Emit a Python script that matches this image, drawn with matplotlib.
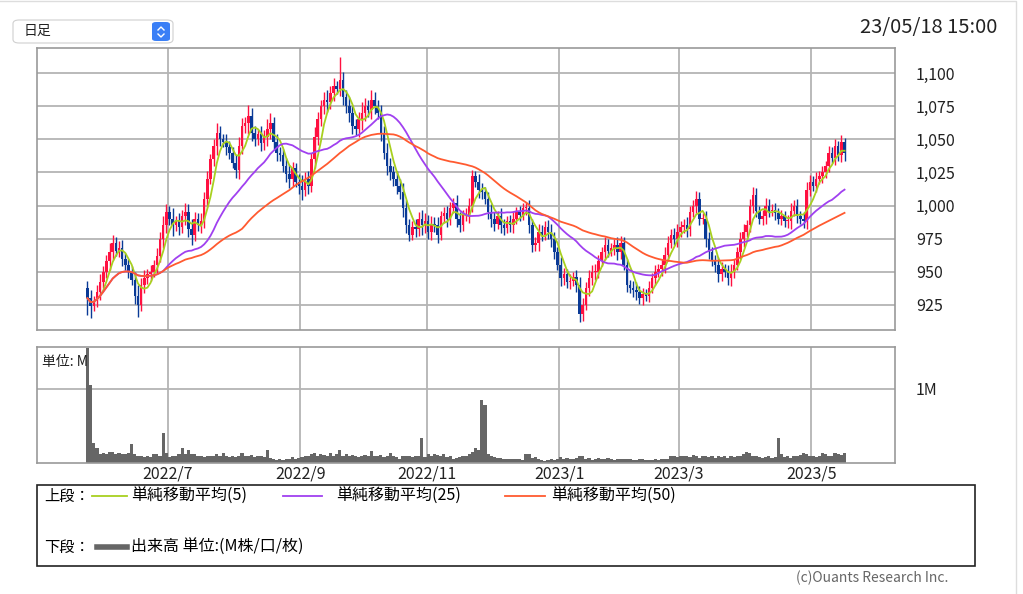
import matplotlib
matplotlib.use("Agg")
import matplotlib.pyplot as plt
from matplotlib.patches import FancyBboxPatch, Rectangle
from matplotlib.lines import Line2D
import numpy as np
import pandas as pd

plt.rcParams['font.family'] = ['Noto Sans CJK JP', 'DejaVu Sans']

W, H = 1023, 594

# TSE trading days 2022/5/26 - 2023/5/18
holidays = ["2022-07-18", "2022-08-11", "2022-09-19", "2022-09-23", "2022-10-10",
            "2022-11-03", "2022-11-23", "2023-01-02", "2023-01-03", "2023-01-09",
            "2023-02-23", "2023-03-21", "2023-05-03", "2023-05-04", "2023-05-05"]
dates = pd.bdate_range("2022-05-26", "2023-05-18", freq="C", holidays=holidays)

first_open = 938
closes = [
    930, 924, 928, 935, 942,   950, 958, 965, 972, 966,
    968, 960, 955, 950, 944,   932, 925, 940, 945, 948,
    950, 955, 962, 975, 985,   995, 990, 985, 988, 984,
    992, 995, 982, 978, 990,   985, 988, 1005, 1020, 1035,
    1045, 1055, 1050, 1048, 1044,   1040, 1032, 1027, 1045, 1060,
    1062, 1068, 1055, 1050, 1054,   1047, 1052, 1058, 1062, 1048,
    1040, 1038, 1030, 1024, 1020,   1028, 1018, 1015, 1012, 1020,
    1015, 1035, 1052, 1065, 1075,   1080, 1078, 1085, 1090, 1088,
    1095, 1082, 1075, 1070, 1060,   1058, 1065, 1070, 1075, 1072,
    1080, 1075, 1070, 1055, 1040,   1030, 1025, 1020, 1015, 1010,
    998, 985, 978, 984, 982,   990, 985, 988, 980, 986,
    985, 978, 992, 994, 990,   998, 1002, 990, 985, 993,
    993, 1000, 1022, 1018, 1012,   1010, 1005, 995, 990, 986,
    992, 985, 983, 988, 985,   990, 995, 993, 998, 998,
    985, 970, 972, 980, 978,   984, 980, 975, 965, 955,
    945, 948, 942, 943, 946,   940, 918, 925, 938, 945,
    950, 950, 958, 965, 970,   966, 968, 970, 965, 972,
    955, 940, 938, 936, 935,   930, 933, 932, 938, 945,
    950, 952, 955, 963, 972,   978, 975, 980, 984, 985,
    982, 995, 1000, 1005, 990,   990, 975, 965, 958, 955,
    948, 952, 950, 945, 950,   955, 965, 975, 980, 985,
    1000, 1008, 996, 990, 992,   1000, 996, 997, 994, 990,
    992, 988, 988, 996, 1000,   992, 990, 988, 1012, 1018,
    1015, 1020, 1022, 1025, 1030,   1040, 1036, 1045, 1038, 1048,
    1040,
]
wicks = [
    5, 6, 4, 5, 6, 4, 5, 7, 6, 4,
    5, 6, 4, 5, 4, 6, 8, 5, 6, 4,
    5, 4, 6, 5, 7, 6, 5, 8, 4, 6,
    5, 7, 6, 8, 5, 4, 6, 5, 6, 4,
    5, 7, 5, 4, 6, 5, 4, 6, 7, 6,
    5, 8, 6, 5, 4, 6, 5, 7, 8, 5,
    6, 4, 5, 6, 7, 5, 4, 6, 8, 5,
    6, 5, 7, 6, 5, 6, 7, 5, 6, 4,
    5, 6, 5, 7, 6, 5, 6, 8, 6, 5,
    7, 6, 5, 6, 5, 7, 6, 5, 6, 5,
    7, 6, 5, 4, 6, 5, 7, 6, 5, 6,
    5, 6, 4, 5, 6, 5, 4, 6, 5, 4,
    5, 6, 5, 4, 6, 5, 4, 5, 6, 5,
    4, 6, 5, 4, 5, 6, 4, 5, 4, 5,
    6, 5, 4, 6, 5, 4, 5, 6, 5, 4,
    6, 5, 4, 5, 4, 5, 6, 5, 4, 6,
    5, 6, 5, 4, 6, 5, 4, 5, 6, 5,
    4, 5, 4, 5, 6, 4, 5, 4, 5, 4,
    5, 4, 5, 6, 5, 4, 5, 6, 4, 5,
    6, 5, 4, 6, 5, 4, 6, 5, 4, 5,
    6, 5, 4, 5, 6, 5, 4, 5, 6, 4,
    5, 6, 5, 4, 5, 6, 5, 4, 5, 4,
    5, 4, 5, 6, 4, 5, 4, 5, 6, 5,
    4, 5, 4, 5, 4, 5, 4, 5, 4, 5,
    6,
]
spike_hi = {80: 1112, 240: 1051}
spike_lo = {0: 917, 1: 915, 16: 916, 156: 912}

volume = [  # M
    1.55, 1.05, 0.27, 0.20, 0.12, 0.13, 0.12, 0.15, 0.15, 0.12,
    0.14, 0.12, 0.12, 0.14, 0.25, 0.12, 0.10, 0.09, 0.08, 0.10,
    0.08, 0.12, 0.12, 0.09, 0.41, 0.13, 0.08, 0.10, 0.10, 0.12,
    0.20, 0.12, 0.18, 0.12, 0.12, 0.10, 0.10, 0.08, 0.10, 0.09,
    0.10, 0.12, 0.10, 0.14, 0.10, 0.08, 0.10, 0.08, 0.09, 0.13,
    0.10, 0.09, 0.11, 0.08, 0.10, 0.09, 0.08, 0.17, 0.07, 0.05,
    0.04, 0.05, 0.04, 0.06, 0.05, 0.08, 0.05, 0.07, 0.08, 0.09,
    0.10, 0.12, 0.13, 0.10, 0.12, 0.11, 0.10, 0.13, 0.10, 0.12,
    0.17, 0.10, 0.12, 0.09, 0.11, 0.10, 0.08, 0.10, 0.11, 0.09,
    0.16, 0.10, 0.09, 0.11, 0.08, 0.10, 0.14, 0.09, 0.08, 0.06,
    0.10, 0.09, 0.10, 0.08, 0.09, 0.10, 0.33, 0.08, 0.12, 0.10,
    0.12, 0.11, 0.10, 0.12, 0.08, 0.10, 0.06, 0.07, 0.08, 0.10,
    0.09, 0.12, 0.15, 0.20, 0.18, 0.85, 0.78, 0.12, 0.10, 0.08,
    0.07, 0.07, 0.06, 0.06, 0.05, 0.06, 0.05, 0.05, 0.04, 0.12,
    0.12, 0.07, 0.08, 0.06, 0.04, 0.03, 0.04, 0.05, 0.04, 0.06,
    0.08, 0.06, 0.07, 0.05, 0.06, 0.07, 0.10, 0.10, 0.06, 0.07,
    0.04, 0.06, 0.07, 0.05, 0.06, 0.07, 0.05, 0.04, 0.05, 0.06,
    0.05, 0.05, 0.06, 0.04, 0.04, 0.05, 0.05, 0.04, 0.04, 0.04,
    0.05, 0.04, 0.05, 0.06, 0.05, 0.09, 0.10, 0.08, 0.10, 0.09,
    0.10, 0.08, 0.11, 0.09, 0.07, 0.10, 0.09, 0.08, 0.09, 0.07,
    0.10, 0.08, 0.09, 0.07, 0.09, 0.08, 0.10, 0.09, 0.12, 0.15,
    0.13, 0.10, 0.09, 0.08, 0.07, 0.08, 0.09, 0.07, 0.08, 0.33,
    0.12, 0.08, 0.09, 0.07, 0.10, 0.10, 0.11, 0.13, 0.12, 0.09,
    0.10, 0.08, 0.09, 0.13, 0.12, 0.10, 0.09, 0.13, 0.12, 0.11,
    0.13,
]

price_ticks = [925, 950, 975, 1000, 1025, 1050, 1075, 1100]
label_months = [7, 9, 11, 1, 3, 5]

# colors
UP, DOWN = "#ff1040", "#0a3a96"
MA_COLORS = {5: "#a8d020", 25: "#a040f0", 50: "#ff5a30"}
GRID = "#b4b4b4"

df = pd.DataFrame({"close": closes, "wick": wicks, "vol": volume}, index=dates)
df["open"] = [first_open] + closes[:-1]
df["high"] = df[["open", "close"]].max(axis=1) + df["wick"]
df["low"] = df[["open", "close"]].min(axis=1) - df["wick"]
for i, v in spike_hi.items():
    df.iloc[i, df.columns.get_loc("high")] = v
for i, v in spike_lo.items():
    df.iloc[i, df.columns.get_loc("low")] = v
x = np.arange(len(df))


def fx(px):
    return px / W


def fy(py):
    return 1 - py / H


fig = plt.figure(figsize=(W / 100, H / 100), dpi=100)

# month boundaries for grid / labels
new_month = [i for i in range(1, len(df)) if dates[i].month != dates[i - 1].month]
grid_pos = [i - 0.5 for i in new_month if dates[i].month in label_months]
grid_lbl = [f"{dates[i].year}/{dates[i].month}" for i in new_month if dates[i].month in label_months]

# ---- price panel
ax = fig.add_axes([fx(37), fy(330), fx(858), 282 / H])
ax.set_xlim(-16.0, 256.0)
ax.set_ylim(906, 1119)
for p in price_ticks:
    ax.axhline(p, color=GRID, lw=1.3, zorder=0)
for g in grid_pos:
    ax.axvline(g, color=GRID, lw=1.3, zorder=0)

up = df["close"] >= df["open"]
col = np.where(up, UP, DOWN)
ax.vlines(x, df["low"], df["high"], colors=col, lw=1.0, zorder=2)
body_h = (df["close"] - df["open"]).abs().clip(lower=0.8)
ax.bar(x, body_h, bottom=df[["open", "close"]].min(axis=1), width=0.8,
       color=col, linewidth=0, zorder=3)

for n, c in MA_COLORS.items():
    ma = df["close"].rolling(n, min_periods=1).mean()
    ax.plot(x, ma, color=c, lw=1.3, zorder=4)

ax.yaxis.tick_right()
ax.set_yticks(price_ticks)
ax.set_yticklabels([f"{p:,}" for p in price_ticks], fontsize=11.5, color="#222222")
ax.tick_params(axis="y", length=0, pad=15)
ax.set_xticks([])
for s in ax.spines.values():
    s.set_color("#999999")
    s.set_linewidth(1.2)

# ---- volume panel
axv = fig.add_axes([fx(37), fy(463), fx(858), 116 / H])
axv.set_xlim(-16.0, 256.0)
axv.set_ylim(0, 1.56)
axv.axhline(1.0, color=GRID, lw=1.3, zorder=0)
for g in grid_pos:
    axv.axvline(g, color=GRID, lw=1.3, zorder=0)
axv.bar(x, df["vol"], width=1.0, color="#666666", linewidth=0, zorder=2)
axv.yaxis.tick_right()
axv.set_yticks([1.0])
axv.set_yticklabels(["1M"], fontsize=11.5, color="#222222")
axv.tick_params(axis="y", length=0, pad=15)
axv.set_xticks(grid_pos)
axv.set_xticklabels(grid_lbl, fontsize=11.5, color="#222222")
axv.tick_params(axis="x", length=0, pad=2)
for s in axv.spines.values():
    s.set_color("#999999")
    s.set_linewidth(1.2)
axv.text(0.006, 0.93, "単位: M", transform=axv.transAxes, fontsize=10,
         va="top", ha="left", color="#222222", zorder=5)

# ---- header
fig.patches.append(FancyBboxPatch((fx(13), fy(43)), fx(160), 23 / H,
                                  boxstyle="round,pad=0,rounding_size=0.006",
                                  transform=fig.transFigure, facecolor="white",
                                  edgecolor="#d0d0d0", lw=0.8))
fig.patches.append(FancyBboxPatch((fx(152), fy(41)), fx(18), 19 / H,
                                  boxstyle="round,pad=0,rounding_size=0.004",
                                  transform=fig.transFigure, facecolor="#3a7ff6",
                                  edgecolor="none"))
fig.lines.append(Line2D([fx(158), fx(161), fx(164)], [fy(30), fy(27), fy(30)],
                        transform=fig.transFigure, color="white", lw=1.0))
fig.lines.append(Line2D([fx(158), fx(161), fx(164)], [fy(34), fy(37), fy(34)],
                        transform=fig.transFigure, color="white", lw=1.0))
fig.text(fx(24), fy(31), "日足", fontsize=10, va="center", ha="left", color="#222222")
fig.text(fx(997), fy(27), "23/05/18 15:00", fontsize=14.5, va="center", ha="right",
         color="#222222")

# ---- legend box
fig.patches.append(Rectangle((fx(37), fy(566)), fx(938), 81 / H,
                             transform=fig.transFigure, facecolor="white",
                             edgecolor="#222222", lw=1.2))
fig.text(fx(44), fy(496), "上段：", fontsize=11, va="center", ha="left")
legend_items = [(5, 92, 127, 131), (25, 283, 322, 336), (50, 505, 545, 551)]
for n, x0, x1, tx in legend_items:
    fig.lines.append(Line2D([fx(x0), fx(x1)], [fy(496), fy(496)],
                            transform=fig.transFigure, color=MA_COLORS[n], lw=1.3))
    fig.text(fx(tx), fy(496), f"単純移動平均({n})", fontsize=11.5, va="center", ha="left")
fig.text(fx(44), fy(547), "下段：", fontsize=11, va="center", ha="left")
fig.lines.append(Line2D([fx(97), fx(127)], [fy(547), fy(547)],
                        transform=fig.transFigure, color="#666666", lw=4))
fig.text(fx(131), fy(547), "出来高 単位:(M株/口/枚)", fontsize=11.5, va="center", ha="left")

fig.text(fx(948), fy(578), "(c)Ouants Research Inc.", fontsize=10, va="center",
         ha="right", color="#666666")

# card edge
fig.lines.append(Line2D([0, fx(1016), fx(1016)], [fy(1), fy(1), 0],
                        transform=fig.transFigure, color="#dddddd", lw=1.0))

fig.savefig("out.png", dpi=100, facecolor="white")
